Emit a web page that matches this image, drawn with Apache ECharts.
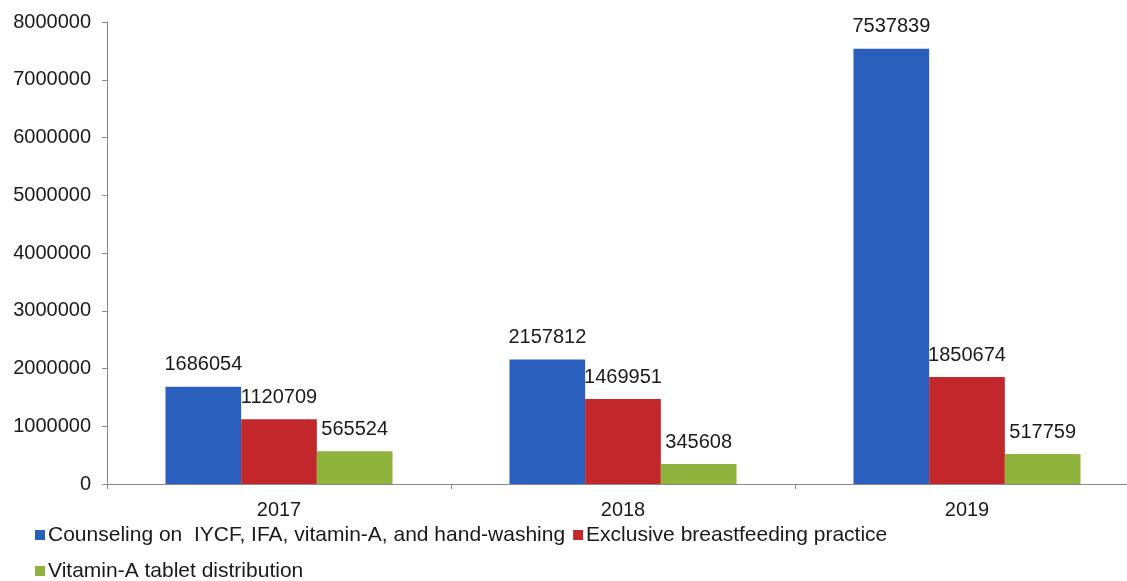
<!DOCTYPE html>
<html>
<head>
<meta charset="utf-8">
<script src="https://cdn.jsdelivr.net/npm/echarts@6/dist/echarts.min.js"></script>
<style>
  html, body { margin: 0; padding: 0; background: #fff; }
  #chart { width: 1127px; height: 581px; }
</style>
</head>
<body>
<div id="chart"></div>
<script>
// Programme reach by year
const years = ['2017', '2018', '2019'];
const seriesNames = [
  'Counseling on  IYCF, IFA, vitamin-A, and hand-washing',
  'Exclusive breastfeeding practice',
  'Vitamin-A tablet distribution'
];
const counseling = [1686054, 2157812, 7537839];
const breastfeeding = [1120709, 1469951, 1850674];
const vitaminA = [565524, 345608, 517759];
const colors = ['#2b5fbe', '#c2282b', '#8fb33c'];

const font = 'Liberation Sans, Arial, sans-serif';
const textColor = '#1a1a1a';

function barSeries(name, data, color) {
  return {
    name: name,
    type: 'bar',
    data: data,
    barGap: '0%',
    barCategoryGap: '34%',
    itemStyle: { color: color },
    label: {
      show: true,
      position: 'top',
      distance: 12,
      color: textColor,
      fontFamily: font,
      fontSize: 20
    }
  };
}

const chart = echarts.init(document.getElementById('chart'), null, { renderer: 'canvas' });
chart.setOption({
  animation: false,
  backgroundColor: '#ffffff',
  // the last category runs slightly past the right edge of the canvas
  grid: { left: 107, width: 1032, top: 22, bottom: 97, containLabel: false, outerBoundsMode: 'none' },
  legend: {
    data: seriesNames,
    left: 30,
    top: 516,
    width: 900,
    itemWidth: 10,
    itemHeight: 10,
    itemGap: 8,
    icon: 'rect',
    textStyle: { color: textColor, fontFamily: font, fontSize: 21, lineHeight: 28, padding: [0, 0, 0, -2] }
  },
  xAxis: {
    type: 'category',
    data: years,
    axisLine: { lineStyle: { color: '#8a8a8a', width: 1 } },
    axisTick: { show: true, length: 5, lineStyle: { color: '#8a8a8a' } },
    axisLabel: { color: textColor, fontFamily: font, fontSize: 20, margin: 16 }
  },
  yAxis: {
    type: 'value',
    min: 0,
    max: 8000000,
    interval: 1000000,
    axisLine: { show: true, lineStyle: { color: '#8a8a8a', width: 1 } },
    axisTick: { show: true, length: 5, lineStyle: { color: '#8a8a8a' } },
    splitLine: { show: false },
    axisLabel: {
      color: textColor, fontFamily: font, fontSize: 20, margin: 16,
      formatter: function (v) { return String(v); }
    }
  },
  series: [
    barSeries(seriesNames[0], counseling, colors[0]),
    barSeries(seriesNames[1], breastfeeding, colors[1]),
    barSeries(seriesNames[2], vitaminA, colors[2])
  ]
});
</script>
</body>
</html>
